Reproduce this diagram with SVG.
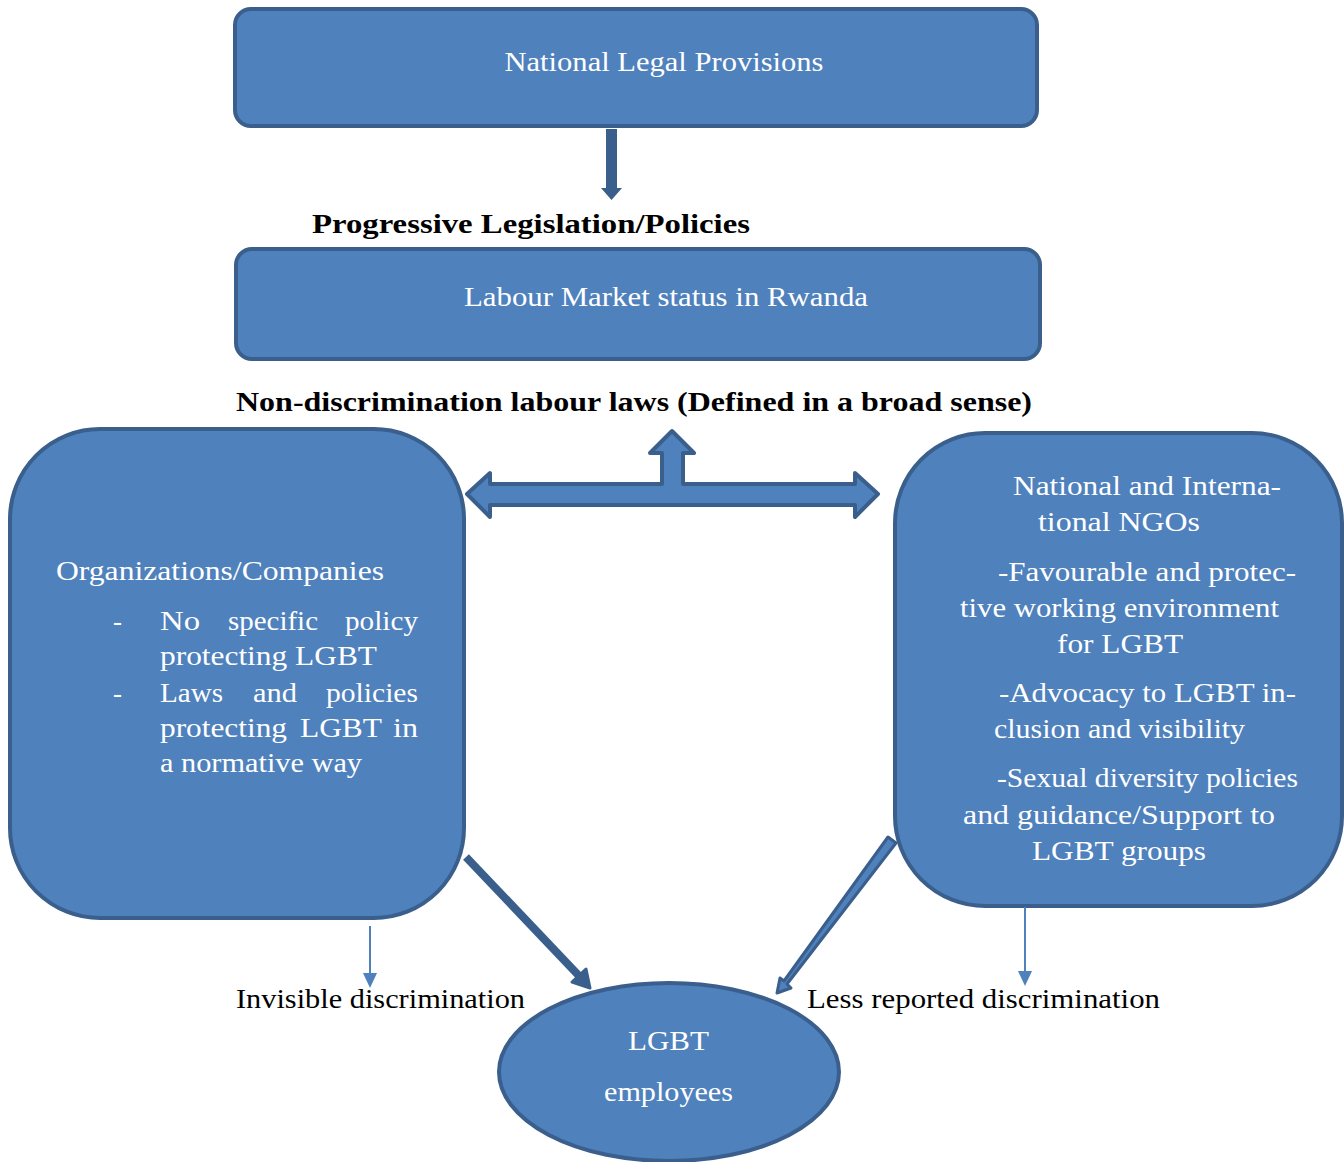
<svg xmlns="http://www.w3.org/2000/svg" width="1344" height="1162" viewBox="0 0 1344 1162">
<style>
.box{fill:#4F81BD;stroke:#3A5F8C;stroke-width:4}
.wt{font-family:"Liberation Serif",serif;font-size:27px;fill:#ffffff}
.bt{font-family:"Liberation Serif",serif;font-size:27px;fill:#000000}
.bb{font-family:"Liberation Serif",serif;font-size:27px;font-weight:bold;fill:#000000}
</style>
<rect width="1344" height="1162" fill="#ffffff"/>
<g id="national-legal">
<rect class="box" x="235" y="9" width="802" height="117" rx="16"/>
<text class="wt" x="664" y="71" text-anchor="middle" textLength="319" lengthAdjust="spacingAndGlyphs">National Legal Provisions</text>
</g>
<g id="labour-market">
<rect class="box" x="236" y="249" width="804" height="110" rx="16"/>
<text class="wt" x="666" y="306" text-anchor="middle" textLength="404" lengthAdjust="spacingAndGlyphs">Labour Market status in Rwanda</text>
</g>
<g id="organizations">
<rect class="box" x="10" y="429" width="454" height="489" rx="90"/>
<text class="wt" x="56" y="580" textLength="328" lengthAdjust="spacingAndGlyphs">Organizations/Companies</text>
<text class="wt" x="113" y="630">-</text>
<text class="wt" x="160" y="630" textLength="40" lengthAdjust="spacingAndGlyphs">No</text>
<text class="wt" x="228" y="630" textLength="90" lengthAdjust="spacingAndGlyphs">specific</text>
<text class="wt" x="345" y="630" textLength="73" lengthAdjust="spacingAndGlyphs">policy</text>
<text class="wt" x="160" y="665" textLength="217" lengthAdjust="spacingAndGlyphs">protecting LGBT</text>
<text class="wt" x="113" y="702">-</text>
<text class="wt" x="160" y="702" textLength="63" lengthAdjust="spacingAndGlyphs">Laws</text>
<text class="wt" x="253" y="702" textLength="44" lengthAdjust="spacingAndGlyphs">and</text>
<text class="wt" x="326" y="702" textLength="92" lengthAdjust="spacingAndGlyphs">policies</text>
<text class="wt" x="160" y="737" textLength="127" lengthAdjust="spacingAndGlyphs">protecting</text>
<text class="wt" x="300" y="737" textLength="82" lengthAdjust="spacingAndGlyphs">LGBT</text>
<text class="wt" x="393" y="737" textLength="25" lengthAdjust="spacingAndGlyphs">in</text>
<text class="wt" x="160" y="772" textLength="202" lengthAdjust="spacingAndGlyphs">a normative way</text>
</g>
<g id="ngos">
<rect class="box" x="895" y="433" width="447" height="473" rx="90"/>
<text class="wt" x="1013" y="495" textLength="268" lengthAdjust="spacingAndGlyphs">National and Interna-</text>
<text class="wt" x="1038" y="531" textLength="162" lengthAdjust="spacingAndGlyphs">tional NGOs</text>
<text class="wt" x="998" y="581" textLength="298" lengthAdjust="spacingAndGlyphs">-Favourable and protec-</text>
<text class="wt" x="960" y="617" textLength="319" lengthAdjust="spacingAndGlyphs">tive working environment</text>
<text class="wt" x="1057" y="653" textLength="126" lengthAdjust="spacingAndGlyphs">for LGBT</text>
<text class="wt" x="999" y="702" textLength="297" lengthAdjust="spacingAndGlyphs">-Advocacy to LGBT in-</text>
<text class="wt" x="994" y="738" textLength="251" lengthAdjust="spacingAndGlyphs">clusion and visibility</text>
<text class="wt" x="997" y="787" textLength="301" lengthAdjust="spacingAndGlyphs">-Sexual diversity policies</text>
<text class="wt" x="963" y="824" textLength="312" lengthAdjust="spacingAndGlyphs">and guidance/Support to</text>
<text class="wt" x="1032" y="860" textLength="174" lengthAdjust="spacingAndGlyphs">LGBT groups</text>
</g>
<g id="lgbt-employees">
<ellipse class="box" cx="669" cy="1072" rx="170" ry="89"/>
<text class="wt" x="628" y="1050" textLength="81" lengthAdjust="spacingAndGlyphs">LGBT</text>
<text class="wt" x="604" y="1101" textLength="129" lengthAdjust="spacingAndGlyphs">employees</text>
</g>
<g id="labels">
<text class="bb" x="312" y="233" textLength="438" lengthAdjust="spacingAndGlyphs">Progressive Legislation/Policies</text>
<text class="bb" x="236" y="411" textLength="796" lengthAdjust="spacingAndGlyphs">Non-discrimination labour laws (Defined in a broad sense)</text>
<text class="bt" x="236" y="1008" textLength="289" lengthAdjust="spacingAndGlyphs">Invisible discrimination</text>
<text class="bt" x="807" y="1008" textLength="353" lengthAdjust="spacingAndGlyphs">Less reported discrimination</text>
</g>
<g id="connectors">
<path d="M606,129 L617,129 L617,188 L622,188 L611.5,200 L601,188 L606,188 Z" fill="#3A5F8C"/>
<path d="M467,494 L490,473 L490,484 L662,484 L662,453 L650,453 L672,431 L694,453 L683,453 L683,484 L855,484 L855,473 L878,494 L855,517 L855,505 L490,505 L490,517 Z" fill="#4F81BD" stroke="#3A5F8C" stroke-width="4" stroke-linejoin="round"/>
<line x1="466" y1="857" x2="582" y2="979" stroke="#3A5F8C" stroke-width="8"/>
<path d="M590,988 L572,982 L586,969 Z" fill="#3A5F8C" stroke="#3A5F8C" stroke-width="3" stroke-linejoin="round"/>
<path d="M888,837 L896,843 L787,984 L791,988 L777,993 L780,978 L784,981 Z" fill="#4F81BD" stroke="#3A5F8C" stroke-width="3" stroke-linejoin="round"/>
<line x1="370" y1="926" x2="370" y2="975" stroke="#4F81BD" stroke-width="2"/>
<path d="M363,973 L377,973 L370,988 Z" fill="#4F81BD"/>
<line x1="1025" y1="907" x2="1025" y2="973" stroke="#4F81BD" stroke-width="2"/>
<path d="M1018,971 L1032,971 L1025,986 Z" fill="#4F81BD"/>
</g>
</svg>
